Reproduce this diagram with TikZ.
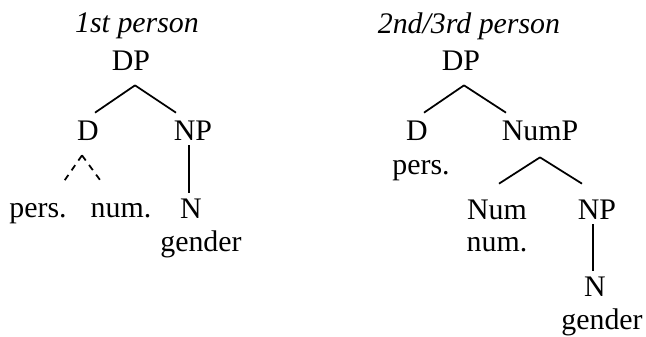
\documentclass[tikz,border=0pt]{standalone}
\usepackage{fontspec}
\setmainfont{Liberation Serif}
\usepackage[usenames,dvipsnames,svgnames,table]{xcolor}
\usepackage{tikz}
\tikzset{
	cat/.style={anchor=base, inner xsep=0pt, inner ysep=0.16cm, text height=0.38cm, text depth=0.14cm, font=\fontsize{17}{20}\selectfont},
	title/.style={anchor=base, inner sep=0pt, font=\fontsize{17}{20}\selectfont\itshape},
	branch/.style={line width=1pt},
	feat/.style={line width=1pt, dash pattern=on 3.6pt off 3.2pt}
}

\begin{document}
\begin{tikzpicture}[x=0.02cm, y=-0.02cm]
	\useasboundingbox (0,0) rectangle (646,336);

	% 1st person
	\node[title] (headA) at (137,32) {1st person};
	\node[cat] (dpA) at (131,70) {DP};
	\node[cat] (dA) at (88,140) {D};
	\node[cat] (npA) at (193,140) {NP};
	\node[cat] (persA) at (38,217) {pers.};
	\node[cat] (numA) at (121,217) {num.};
	\node[cat] (nA) at (191,218) {N};
	\node[cat] (genA) at (201,251) {gender};

	\draw[branch] ([shift={(4,0)}]dpA.south) -- ([shift={(7,0)}]dA.north);
	\draw[branch] ([shift={(4,0)}]dpA.south) -- ([shift={(-17,0)}]npA.north);
	\draw[feat] ([shift={(-6,0)}]dA.south) -- ([shift={(25,-7)}]persA.north);
	\draw[feat] ([shift={(-6,0)}]dA.south) -- ([shift={(-19,-7)}]numA.north);
	\draw[branch] ([shift={(-4,-10)}]npA.south) -- ([shift={(-2,2)}]nA.north);

	% 2nd/3rd person
	\node[title] (headB) at (469,33) {2nd/3rd person};
	\node[cat] (dpB) at (461,70) {DP};
	\node[cat] (dB) at (417,140) {D};
	\node[cat] (persB) at (421,174) {pers.};
	\node[cat] (numpB) at (540,140) {NumP};
	\node[cat] (numB) at (497,219) {Num};
	\node[cat] (numvB) at (497,251) {num.};
	\node[cat] (npB) at (597,219) {NP};
	\node[cat] (nB) at (595,296) {N};
	\node[cat] (genB) at (602,329) {gender};

	\draw[branch] ([shift={(3,0)}]dpB.south) -- ([shift={(7,0)}]dB.north);
	\draw[branch] ([shift={(3,0)}]dpB.south) -- ([shift={(-34,0)}]numpB.north);
	\draw[branch] ([shift={(0,2)}]numpB.south) -- ([shift={(2,-8)}]numB.north);
	\draw[branch] ([shift={(0,2)}]numpB.south) -- ([shift={(-15,-8)}]npB.north);
	\draw[branch] ([shift={(-4,-10)}]npB.south) -- ([shift={(-2,2)}]nB.north);
\end{tikzpicture}
\end{document}
